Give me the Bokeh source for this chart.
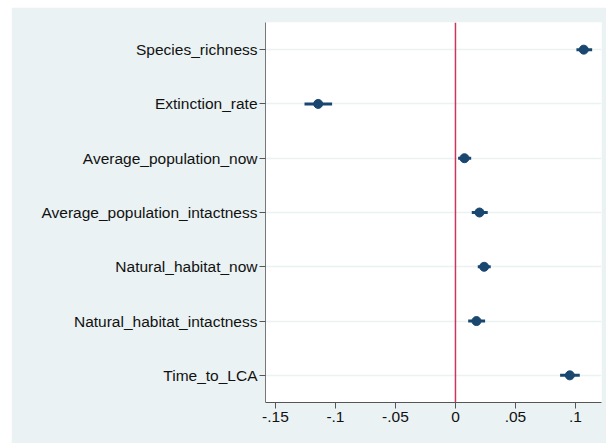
from bokeh.plotting import figure
from bokeh.models import FactorRange, Range1d, Span, FixedTicker
from bokeh.embed import file_html
from bokeh.resources import INLINE

categories = ["Species_richness", "Extinction_rate", "Average_population_now",
              "Average_population_intactness", "Natural_habitat_now",
              "Natural_habitat_intactness", "Time_to_LCA"]
estimate = [0.1069, -0.1144, 0.0075, 0.0200, 0.0239, 0.0175, 0.0953]
ci_low = [0.1008, -0.1258, 0.0022, 0.0136, 0.0186, 0.0106, 0.0872]
ci_high = [0.1139, -0.1028, 0.0131, 0.0269, 0.0294, 0.0247, 0.1036]
x_ticks = [-0.15, -0.1, -0.05, 0, 0.05, 0.1]
x_tick_labels = ["-.15", "-.1", "-.05", "0", ".05", ".1"]

BG = "#EAF2F3"
NAVY = "#1A476F"

p = figure(width=595, height=436, output_backend="svg", toolbar_location=None,
           y_range=FactorRange(factors=categories[::-1], range_padding=0),
           x_range=Range1d(-0.1583, 0.1217),
           min_border_left=254, min_border_right=5, min_border_top=15,
           min_border_bottom=41)
p.margin = (7, 0, 0, 11)
p.background_fill_color = "white"
p.border_fill_color = BG
p.outline_line_color = None

p.xgrid.visible = False
p.ygrid.grid_line_color = BG
p.ygrid.grid_line_width = 1.5

p.add_layout(Span(location=0, dimension="height", line_color="#C8385A", line_width=1.5))

p.segment(x0=ci_low, y0=categories, x1=ci_high, y1=categories, line_color=NAVY, line_width=3)
p.scatter(x=estimate, y=categories, size=9, fill_color=NAVY, line_color=NAVY)

for ax in (p.xaxis[0], p.yaxis[0]):
    ax.axis_line_color = "#555555"
    ax.axis_line_width = 1
    ax.major_tick_line_color = "#555555"
    ax.major_tick_out = 6
    ax.major_tick_in = 0
    ax.minor_tick_line_color = None
    ax.major_label_text_font = "Liberation Sans"
    ax.major_label_text_font_size = "15.5px"
    ax.major_label_text_color = "#111111"

p.yaxis.axis_line_color = "#777777"
p.xaxis.ticker = FixedTicker(ticks=x_ticks)
p.xaxis.major_label_overrides = {t: l for t, l in zip(x_ticks, x_tick_labels)}
p.xaxis.major_label_standoff = 3
p.yaxis.major_label_standoff = 2

open("out.html", "w").write(file_html(p, INLINE))
